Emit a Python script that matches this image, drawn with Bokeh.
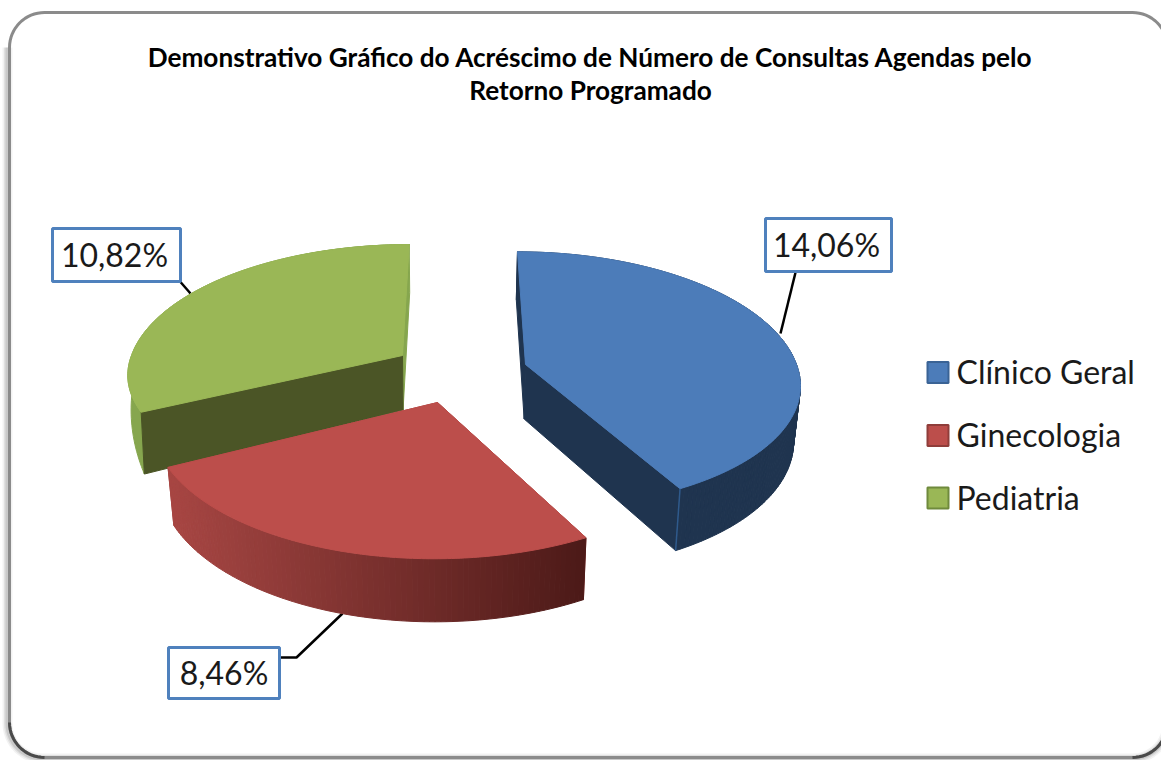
import math
from bokeh.plotting import figure
from bokeh.models import Range1d
from bokeh.core.properties import value
from bokeh.embed import file_html
from bokeh.resources import INLINE

title_lines = ["Demonstrativo Gráfico do Acréscimo de Número de Consultas Agendas pelo", "Retorno Programado"]
categories = ["Clínico Geral", "Ginecologia", "Pediatria"]
values = [14.06, 8.46, 10.82]
top_colors = ["#4c7cb9", "#bc4e4b", "#9ab756"]
legend_edges = ["#3a6395", "#8f3d3a", "#6f8a3c"]

FONT = "Lato"
W, H = 1161, 760
VX = 458        # horizontal vanishing point
K = 0.136       # perspective strength
DEPTH = 54.5

# layout of each exploded slice: apex x, apex y, radius x, back radius y, front radius y, bottom scale
slice_layout = [(525, 364, 271, 128, 124, 0.98), (437, 402, 282, 135, 135, 0.98), (402, 355, 271, 126, 118, 0.99)]
label_boxes = [(765, 218, 891, 271), (168, 647, 279, 698), (52, 228, 180, 281)]
label_dx = [-2, 0, -2]
leaders = [[(795, 272), (780, 333)], [(279, 657), (296, 657), (342, 613)], [(170, 270), (190, 293)]]
legend_y = [372, 435, 497.5]

p = figure(width=W, height=H, x_range=Range1d(0, W), y_range=Range1d(H, 0),
           output_backend="svg", toolbar_location=None, min_border=0,
           background_fill_color="white", border_fill_color="white", outline_line_color=None)
p.axis.visible = False
p.grid.visible = False


def project(lay, deg, r=1.0, bottom=False, depth=DEPTH):
    x0, y0, a, b_back, b_front, bs = lay
    t = math.radians(deg)
    u, v = r * math.sin(t), -r * math.cos(t)
    s = 1 / (1 - K * v)
    x = VX + (x0 - VX + a * u) * s
    y = y0 + (b_front if v > 0 else b_back) * v * s
    if bottom:
        x = VX + (x - VX) * bs
        y += depth * s
    return x, y


def arc(cx, cy, rad, d0, d1, n=16):
    pts = []
    for i in range(n + 1):
        t = math.radians(d0 + (d1 - d0) * i / n)
        pts.append((cx + rad * math.cos(t), cy + rad * math.sin(t)))
    return pts


# card frame
R = 35
L, T, RT, B = 9, 12, 1167, 757
frame = [(RT, T + R)] + arc(RT - R, T + R, R, 0, -90) + arc(L + R, T + R, R, -90, -180) \
    + arc(L + R, B - R, R, 180, 90) + arc(RT - R, B - R, R, 90, 0)
fx, fy = zip(*frame)
shadow = [(L - 2, T + R)] + [(x - 2, y + 1) for x, y in arc(L + R, B - R, R, 180, 90)] \
    + [(x, y + 1) for x, y in arc(RT - R, B - R, R, 90, 0)]
sx, sy = zip(*shadow)
for w, al in [(10, 0.05), (7, 0.07), (4, 0.10)]:
    p.line(sx, sy, line_color="black", line_width=w, line_alpha=al)
p.line(fx, fy, line_color="#8b8b8b", line_width=3)
for d0, d1 in [(180, 90), (90, 0)]:
    c = L + R if d0 == 180 else RT - R
    pts = arc(c, B - R, R, d0, d1)
    p.line(*zip(*pts), line_color="#2f2f2f", line_width=3, line_alpha=0.7)

# leaders
for seg in leaders:
    p.line(*zip(*seg), line_color="black", line_width=2.5)

total = sum(values)
spans = []
acc = 0.0
for val in values:
    spans.append((acc, acc + 360 * val / total))
    acc += 360 * val / total


def poly(pts, color, edge=None, width=1):
    xs, ys = zip(*pts)
    p.patch(xs, ys, fill_color=color, line_color=edge or color, line_width=width)


def draw_slice(i, wall_color, side_color, gradient=None):
    lay = slice_layout[i]
    d0, d1 = spans[i]
    apex_t = (lay[0], lay[1])
    apex_b = project(lay, 0, 0, bottom=True)
    for d in (d0, d1):
        poly([apex_t, project(lay, d), project(lay, d, bottom=True), apex_b], wall_color)
    n = int(d1 - d0)
    for j in range(n):
        a0 = d0 + (d1 - d0) * j / n
        a1 = d0 + (d1 - d0) * (j + 1) / n
        q = [project(lay, a0), project(lay, a1), project(lay, a1, bottom=True), project(lay, a0, bottom=True)]
        col = gradient((q[0][0] + q[1][0]) / 2) if gradient else side_color
        poly(q, col)
    top = [apex_t] + [project(lay, d0 + (d1 - d0) * j / 120) for j in range(121)]
    poly(top, top_colors[i])


def red_gradient(x):
    t = min(1, max(0, (x - 168) / (586 - 168)))
    c0, c1 = (0xa8, 0x47, 0x44), (0x4c, 0x1a, 0x18)
    return "#%02x%02x%02x" % tuple(int(c0[k] + (c1[k] - c0[k]) * t) for k in range(3))


# green first (furthest), then blue, then red
lay = slice_layout[2]
d0, d1 = spans[2]
n = int(d1 - d0)
# outer wall of the green slice tapers away toward the back
taper = []
for j in range(n + 1):
    d = d0 + (d1 - d0) * j / n
    taper.append(project(lay, d, bottom=True, depth=max(0.0, 58 * (1 - (d - d0) / 42))))
poly([project(lay, d0 + (d1 - d0) * j / n) for j in range(n + 1)] + taper[::-1], "#86a64e")
poly([(lay[0], lay[1]), project(lay, d1), project(lay, d1, bottom=True), project(lay, 0, 0, bottom=True)], "#86a64e")
poly([(lay[0], lay[1]), project(lay, d0), project(lay, d0, bottom=True, depth=58), project(lay, 0, 0, bottom=True)], "#4b5526")
poly([(lay[0], lay[1])] + [project(lay, d0 + (d1 - d0) * j / 120) for j in range(121)], top_colors[2])

draw_slice(0, "#1f344f", "#1f344f")
f = project(slice_layout[0], spans[0][1])
fb = project(slice_layout[0], spans[0][1], bottom=True)
p.line([f[0], fb[0]], [f[1], fb[1]], line_color="#2f5a8c", line_width=1.5)

draw_slice(1, "#a84744", "#a84744", gradient=red_gradient)

# value labels
for val, box, dx in zip(values, label_boxes, label_dx):
    x0, y0, x1, y1 = box
    p.quad(left=x0, right=x1, top=y0, bottom=y1, fill_color="white", line_color="#4f81bd", line_width=3)
    p.text([(x0 + x1) / 2 + dx], [(y0 + y1) / 2 - 1], text=[f"{val:.2f}%".replace(".", ",")],
           text_font=value(FONT), text_font_size="32px", text_align="center",
           text_baseline="middle", text_color="#1a1a1a")

# legend
for cat, y, col, edge in zip(categories, legend_y, top_colors, legend_edges):
    p.quad(left=927, right=948, top=y - 10.5, bottom=y + 10.5, fill_color=col, line_color=edge, line_width=2)
    p.text([956], [y - 1], text=[cat], text_font=value(FONT), text_font_size="32px",
           text_align="left", text_baseline="middle", text_color="#1a1a1a")

# title
for line, y in zip(title_lines, [56, 89]):
    p.text([590], [y], text=[line], text_font=value(FONT), text_font_style="bold", text_font_size="26.2px",
           text_align="center", text_baseline="middle", text_color="black")

open("out.html", "w").write(file_html(p, INLINE))
